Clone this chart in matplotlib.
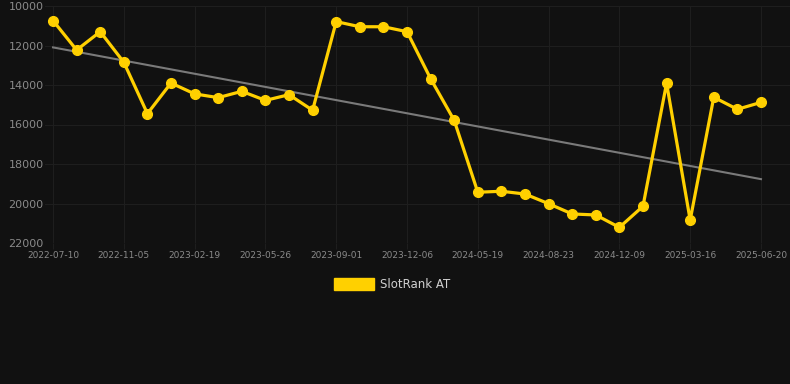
import matplotlib
matplotlib.use("Agg")
import matplotlib.pyplot as plt
import numpy as np

# data (ranks, lower is better -> inverted axis)
dates = [
    "2022-07-10", "2022-08-19", "2022-09-27", "2022-11-05", "2022-12-10",
    "2023-01-14", "2023-02-19", "2023-03-22", "2023-04-24", "2023-05-26",
    "2023-06-28", "2023-07-31", "2023-09-01", "2023-10-03", "2023-11-04",
    "2023-12-06", "2024-02-02", "2024-03-27", "2024-05-19", "2024-06-20",
    "2024-07-22", "2024-08-23", "2024-09-29", "2024-11-03", "2024-12-09",
    "2025-01-10", "2025-02-12", "2025-03-16", "2025-04-17", "2025-05-19",
    "2025-06-20",
]
ranks = [
    10740, 12230, 11300, 12850, 15450, 13900, 14450, 14640, 14320, 14780,
    14490, 15280, 10790, 11050, 11050, 11300, 13680, 15790, 19430, 19380,
    19520, 20010, 20530, 20580, 21210, 20140, 13910, 20840, 14620, 15230,
    14880,
]
series_name = "SlotRank AT"
y_ticks = [10000, 12000, 14000, 16000, 18000, 20000, 22000]

bg = "#111111"
gold = "#FFD000"
grid_col = "#1e1e1e"
text_col = "#8a8a8a"

fig = plt.figure(figsize=(7.9, 3.84), dpi=100, facecolor=bg)
ax = fig.add_axes([45 / 790, 1 - 243 / 384, 1 - 45 / 790, (243 - 6) / 384])
ax.set_facecolor(bg)

x = np.arange(len(ranks))

# linear trend
k, b = np.polyfit(x, ranks, 1)
ax.plot(x, k * x + b, color="#7a7a7a", lw=1.5, zorder=2)

ax.plot(x, ranks, color=gold, lw=2.3, marker="o", ms=7,
        solid_joinstyle="miter", zorder=3, label=series_name)

ax.set_ylim(22000, 10000)
ax.set_xlim(-0.34, len(ranks) - 1 + 1.23)
ax.set_yticks(y_ticks)
ax.set_yticklabels([str(t) for t in y_ticks])
tick_idx = list(range(0, len(dates), 3))
ax.set_xticks(tick_idx)
ax.set_xticklabels([dates[i] for i in tick_idx])

ax.grid(True, color=grid_col, lw=0.8)
ax.set_axisbelow(True)
for s in ax.spines.values():
    s.set_visible(False)
ax.tick_params(axis="y", colors=text_col, labelsize=8, length=0, pad=1)
ax.tick_params(axis="x", colors=text_col, labelsize=6.5, length=4, color=grid_col, pad=2)

# legend as a filled box under the chart
fig.patches.append(plt.Rectangle((334 / 790, 1 - 290 / 384), 40 / 790, 12 / 384,
                                 transform=fig.transFigure, color=gold))
fig.text(380 / 790, 1 - 284 / 384, series_name, color="#d0d0d0",
         fontsize=8.5, va="center", ha="left")

fig.savefig("out.png", facecolor=bg)
